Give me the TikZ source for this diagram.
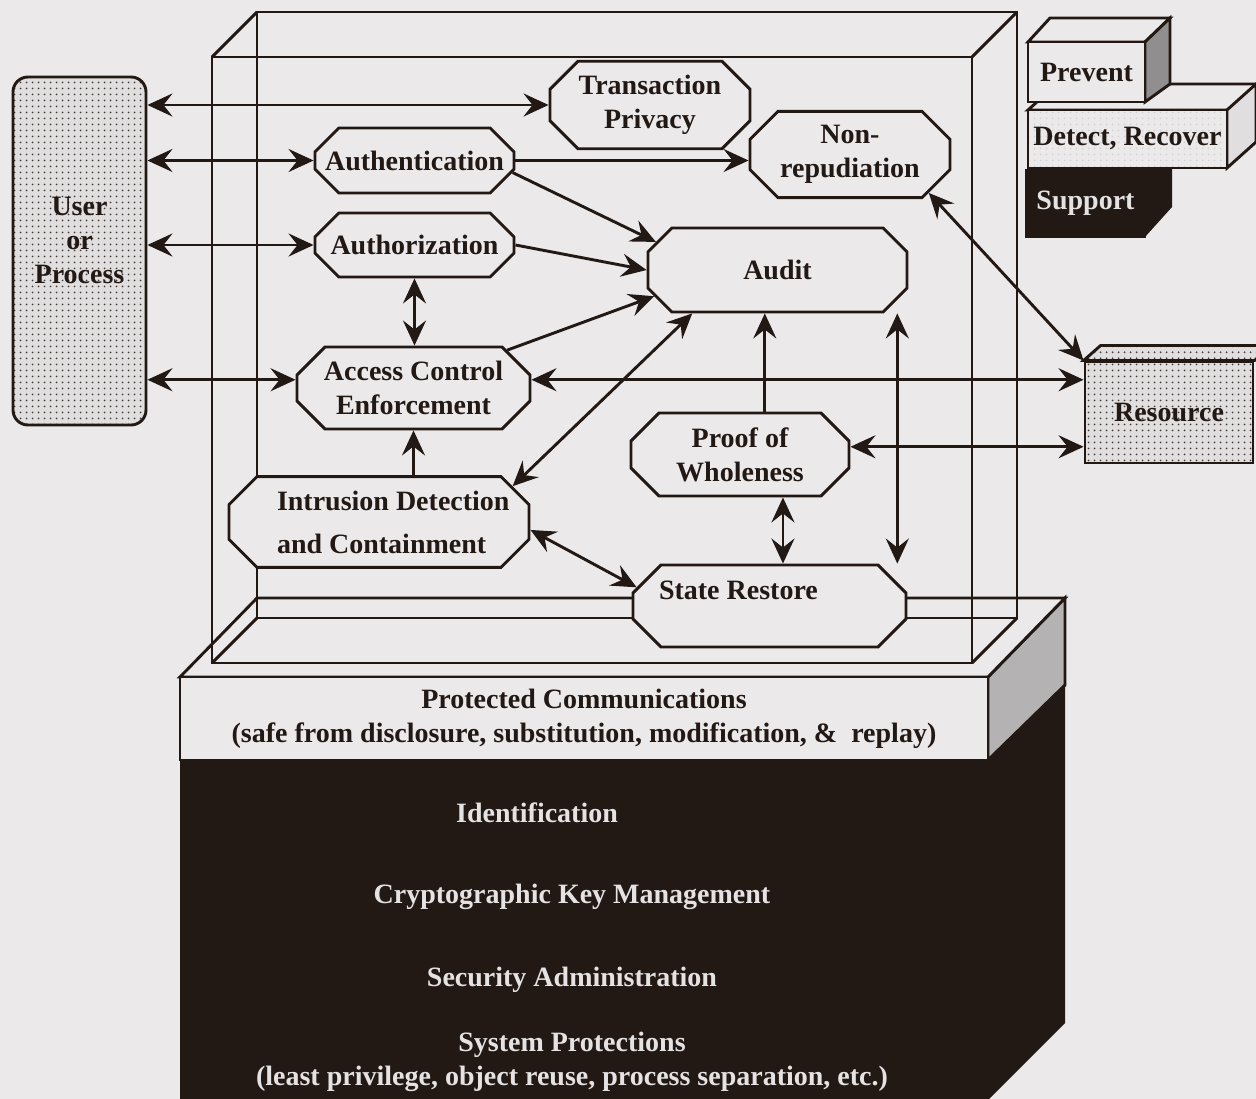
\documentclass[tikz,border=0pt]{standalone}
\usepackage{fontspec}
\setmainfont{Liberation Serif}
\usetikzlibrary{shapes.misc,arrows.meta,patterns}
\definecolor{paper}{HTML}{EBE9EA}
\definecolor{ink}{HTML}{221814}
\definecolor{sidegray}{HTML}{B4B2B3}
\definecolor{dotbg}{HTML}{E0DEDF}
\definecolor{lighttext}{HTML}{E4E2E3}
\pgfdeclarepatternformonly{userdots}{\pgfqpoint{0pt}{0pt}}{\pgfqpoint{6pt}{6pt}}{\pgfqpoint{6pt}{6pt}}{\pgfpathcircle{\pgfqpoint{3pt}{3pt}}{1.1pt}\pgfusepath{fill}}
\begin{document}
\begin{tikzpicture}[x=1pt,y=-1pt,line width=2.9pt,color=ink,
    every node/.style={font=\fontsize{28}{34}\selectfont\bfseries,text=ink},
    octa/.style={draw=ink,fill=paper,chamfered rectangle,chamfered rectangle xsep=14pt,chamfered rectangle ysep=14pt,inner sep=0pt,align=center},
    dotfill/.style={preaction={fill=dotbg},pattern=userdots,pattern color=ink!85},
    oneway/.style={-{Stealth[length=25pt,width=23pt,inset=9pt]}},
    twoway/.style={{Stealth[length=25pt,width=23pt,inset=9pt]}-{Stealth[length=25pt,width=23pt,inset=9pt]}}]
    \useasboundingbox (0,0) rectangle (1256,1099);
    \fill[paper] (0,0) rectangle (1256,1099);

    % base
    \fill[ink] (180,760) -- (988,760) -- (1065,685) -- (1065,1023) -- (988,1100) -- (180,1100) -- cycle;
    \draw[fill=sidegray] (988,677) -- (1065,598) -- (1065,685) -- (988,760) -- cycle;
    \draw[fill=paper] (180,677) -- (257,598) -- (1065,598) -- (988,677) -- cycle;
    \node[draw,fill=paper,minimum width=808pt,minimum height=83pt,inner sep=0pt,align=center] (comm) at (584,718.5)
        {Protected Communications\\(safe from disclosure, substitution, modification, \&\ \ replay)};
    \foreach \n/\x/\y/\t in {ident/537/813/Identification, crypto/572/897/Cryptographic Key Management,
        secadm/572/980/Security Administration,
        sysprot/572/1062/{System Protections\\(least privilege, object reuse, process separation, etc.)}}
        \node[text=lighttext,align=center] (\n) at (\x,\y) {\t};

    % open box
    \draw (212,57) rectangle (972,663) (257,12) rectangle (1017,618);
    \foreach \a/\b in {212/57, 972/57, 212/663, 972/663}
        \draw (\a,\b) -- ++(45,-45);

    % legend
    \node[draw,fill=ink,minimum width=119pt,minimum height=67pt,inner sep=0pt,text=lighttext] (supp) at (1085.5,203.5) {Support};
    \fill (1145,168) -- (1172,168) -- (1172,207) -- (1145,237) -- cycle;
    \draw[fill=paper] (1028,110) -- (1057,84) -- (1270,84) -- (1227,110) -- cycle;
    \draw[fill=paper!80!sidegray] (1227,110) -- (1256,84) -- (1256,142) -- (1227,168) -- cycle;
    \node[draw,preaction={fill=paper},pattern=userdots,pattern color=gray!35,minimum width=199pt,minimum height=58pt,inner sep=0pt] (detect) at (1127.5,139) {Detect, Recover};
    \draw[fill=paper] (1028,42) -- (1050,18) -- (1170,18) -- (1145,42) -- cycle;
    \draw[fill=sidegray!80!black] (1145,42) -- (1170,18) -- (1170,84) -- (1145,102) -- cycle;
    \node[draw,fill=paper,minimum width=117pt,minimum height=60pt,inner sep=0pt] (prev) at (1086.5,72) {Prevent};

    % outside
    \node[draw,rounded corners=15pt,dotfill,minimum width=133pt,minimum height=348pt,inner sep=0pt,align=center,text depth=22pt] (user) at (79.5,251) {User\\or\\Process};
    \node[draw,dotfill,minimum width=168pt,minimum height=101pt,inner sep=0pt] (res) at (1169,412.5) {Resource};
    \draw[dotfill] (res.north west) -- ++(17,-15) -- ++(170,0) -- (res.north east) -- cycle;

    % functions
    \node[octa,minimum width=200pt,minimum height=83pt] (tp) at (650,105) {Transaction\\Privacy};
    \node[octa,minimum width=199pt,minimum height=65pt] (authn) at (414.5,160.5) {Authentication};
    \node[octa,minimum width=200pt,minimum height=83pt] (nonrep) at (850,154.5) {Non-\\repudiation};
    \node[octa,minimum width=199pt,minimum height=64pt] (authz) at (414.5,245) {Authorization};
    \node[octa,minimum width=259pt,minimum height=84pt] (audit) at (777.5,270) {Audit};
    \node[octa,minimum width=233pt,minimum height=82pt] (ace) at (413.5,388) {Access Control\\Enforcement};
    \node[octa,minimum width=218pt,minimum height=83pt] (pow) at (740,454.5) {Proof of\\Wholeness};
    \node[octa,minimum width=300pt,minimum height=80pt] (idc) at (379,522)
        {\makebox[204pt][l]{Intrusion Detection}\\[9pt]\makebox[204pt][l]{and Containment}};
    \node[octa,minimum width=273pt,minimum height=82pt,text height=20pt,text depth=33pt] (sr) at (769.5,606)
        {\makebox[221pt][l]{State Restore}};

    \draw[twoway] (tp.west -| user.east) -- (tp.west);
    \draw[twoway] (authn.west -| user.east) -- (authn.west);
    \draw[twoway] (authz.west -| user.east) -- (authz.west);
    \draw[twoway] (ace.176 -| user.east) -- (ace.176);
    \draw[oneway] (authn.east) -- (authn.east -| nonrep.west);
    \draw[oneway] (authn.-7) -- (audit.167);
    \draw[oneway] (authz.east) -- (audit.west);
    \draw[twoway] (authz.south) -- (authz.south |- ace.north);
    \draw[oneway] (ace.22) -- (audit.192);
    \draw[twoway] (ace.4) -- (ace.4 -| res.west);
    \draw[twoway] (audit.207) -- (idc.15);
    \draw[oneway] (pow.60) -- (pow.60 |- audit.south);
    \draw[twoway] (audit.-14 |- audit.south) -- (audit.-14 |- sr.north);
    \draw[twoway] (nonrep.-26) -- (res.north west);
    \draw[twoway] (pow.4) -- (pow.4 -| res.west);
    \draw[twoway] (pow.-45) -- (pow.-45 |- sr.north);
    \draw[oneway] (idc.north -| ace.south) -- (ace.south);
    \draw[twoway] (idc.-3) -- (sr.172);
\end{tikzpicture}
\end{document}
